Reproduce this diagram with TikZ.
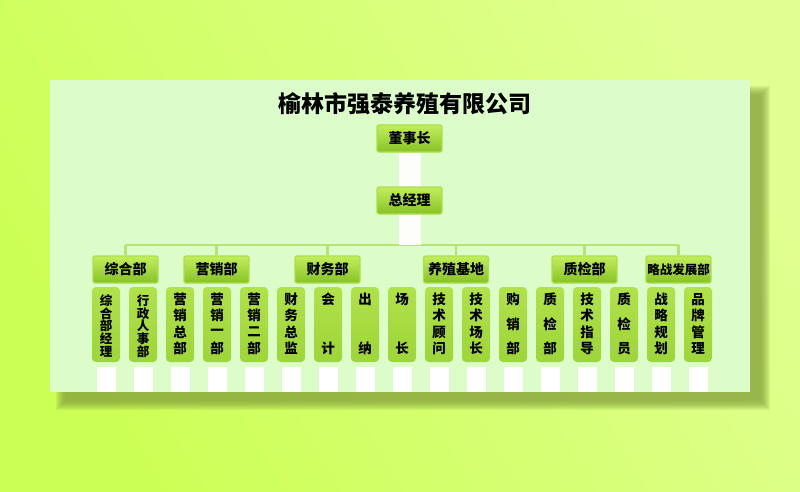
\documentclass[tikz,border=0pt]{standalone}
\usepackage{fontspec}
\newfontfamily\cjk{Noto Sans CJK SC}
\usetikzlibrary{positioning}
\pgfdeclarelayer{back}
\pgfdeclarelayer{bg}
\pgfsetlayers{back,bg,main}
\definecolor{bgA}{HTML}{CCFF55}
\definecolor{bgB}{HTML}{E0FF90}
\definecolor{panel}{HTML}{DCFDCA}
\definecolor{shadowc}{HTML}{86A23C}
\definecolor{btnTop}{HTML}{C2EE5C}
\definecolor{btnBot}{HTML}{88C226}
\definecolor{btnEdge}{HTML}{ACDF4C}
\definecolor{tallTop}{HTML}{B0E24A}
\definecolor{tallBot}{HTML}{9ED538}
\definecolor{busc}{HTML}{B6E470}
\tikzset{
  headbox/.style={rounded corners=2pt, top color=btnTop, bottom color=btnBot,
    draw=btnEdge, line width=1.2pt, minimum width=65pt, minimum height=27pt,
    inner sep=0pt, font=\cjk\bfseries\fontsize{14}{14}\selectfont},
  tallbox/.style={rounded corners=4pt, top color=tallTop, bottom color=tallBot,
    draw=none, minimum width=28pt, minimum height=75pt, inner sep=0pt},
  tallchar/.style={inner sep=0pt, font=\cjk\bfseries\fontsize{13.5}{13.5}\selectfont},
  smallchar/.style={inner sep=0pt, font=\cjk\bfseries\fontsize{12.5}{12.5}\selectfont},
  stub/.style={fill=white, draw=none, minimum width=19pt, minimum height=25pt, inner sep=0pt},
  busline/.style={draw=busc, line width=2.2pt},
  whitebar/.style={draw=white, line width=22pt, opacity=0.95},
}
\newcommand\colbox[4]{%
  \node[tallbox] (#1) at (#2,324.5) {};
  \ifnum#3=5
    \foreach \ch [count=\i from 0] in {#4} {
      \node[smallchar] at (#2, {300.5 + \i*12.8}) {\ch};
    }
  \else
    \foreach \ch [count=\i from 0] in {#4} {
      \node[tallchar] at (#2, {299.5 + \i*49/(#3-1)}) {\ch};
    }
  \fi
  \node[stub] (#1s) at (#2,379.5) {};
}
\begin{document}
\begin{tikzpicture}[x=1pt,y=-1pt]
\useasboundingbox (0,0) rectangle (800,492);
\begin{pgfonlayer}{back}
  \shade[left color=bgA, right color=bgB, shading angle=120] (0,0) rectangle (800,492);
  \foreach \i in {0,...,9} {
    \fill[shadowc, opacity=0.13] (56+\i,86+\i) rectangle (770-\i,410-\i);
  }
  \fill[panel] (50,80) rectangle (750,392);
\end{pgfonlayer}

\node[font=\cjk\bfseries\fontsize{23}{23}\selectfont, inner sep=0pt] (title) at (405,104) {榆林市强泰养殖有限公司};

\node[headbox] (dsz) at (409.5,138.5) {董事长};
\node[headbox] (zjl) at (409.5,200.5) {总经理};

\node[headbox] (zhb) at (125.5,269.5) {综合部};
\node[headbox] (yxb) at (216.5,269.5) {营销部};
\node[headbox] (cwb) at (327.5,269.5) {财务部};
\node[headbox] (yzjd) at (456,269.5) {养殖基地};
\node[headbox] (zjb) at (584.5,269.5) {质检部};
\node[headbox, font=\cjk\bfseries\fontsize{12.5}{12.5}\selectfont] (zlfz) at (678.5,269.5) {略战发展部};

\coordinate (busL) at (125.5,245);
\coordinate (busR) at (678.5,245);
\coordinate (busM) at (409.5,245);

\colbox{c0}{106}{5}{综,合,部,经,理}
\colbox{c1}{143}{5}{行,政,人,事,部}
\colbox{c2}{180}{4}{营,销,总,部}
\colbox{c3}{217}{4}{营,销,一,部}
\colbox{c4}{254}{4}{营,销,二,部}
\colbox{c5}{291}{4}{财,务,总,监}
\colbox{c6}{328}{2}{会,计}
\colbox{c7}{365}{2}{出,纳}
\colbox{c8}{402}{2}{场,长}
\colbox{c9}{439}{4}{技,术,顾,问}
\colbox{c10}{476}{4}{技,术,场,长}
\colbox{c11}{513}{3}{购,销,部}
\colbox{c12}{550}{3}{质,检,部}
\colbox{c13}{587}{4}{技,术,指,导}
\colbox{c14}{624}{3}{质,检,员}
\colbox{c15}{661}{4}{战,略,规,划}
\colbox{c16}{698}{4}{品,牌,管,理}

\begin{pgfonlayer}{bg}
  \draw[busline] (busL) -- (busR);
  \foreach \n in {zhb,yxb,cwb,yzjd,zjb,zlfz} {
    \draw[busline] (\n.north |- busL) -- (\n.north);
  }
  \draw[whitebar] (dsz.south) -- (busM);
\end{pgfonlayer}
\end{tikzpicture}
\end{document}
